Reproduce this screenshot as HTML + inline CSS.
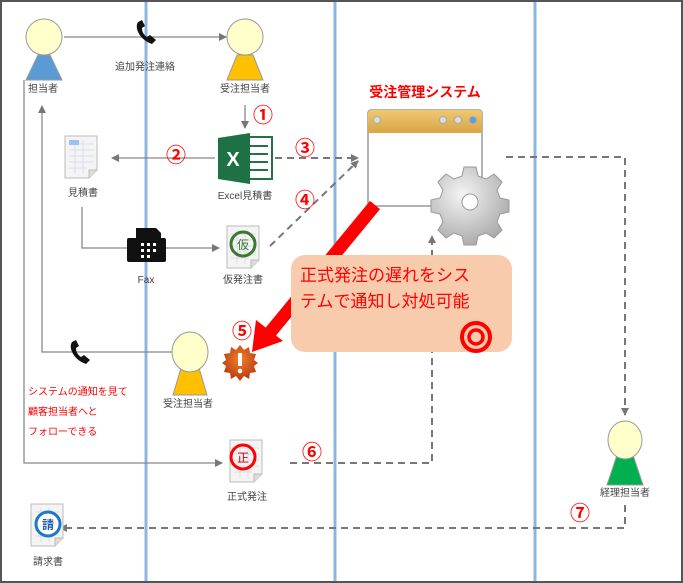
<!DOCTYPE html>
<html><head><meta charset="utf-8"><style>
html,body{margin:0;padding:0;background:#fff}
svg{display:block;font-family:"Liberation Sans","Noto Sans CJK JP",sans-serif}
</style></head><body>
<svg width="683" height="583" viewBox="0 0 683 583" xmlns="http://www.w3.org/2000/svg">
<defs>
<marker id="ag" markerWidth="8" markerHeight="8" refX="7" refY="4" orient="auto" markerUnits="userSpaceOnUse"><path d="M0,0 L8,4 L0,8 z" fill="#777"/></marker>
<linearGradient id="tb" x1="0" y1="0" x2="0" y2="1"><stop offset="0" stop-color="#f0c870"/><stop offset="1" stop-color="#d9a548"/></linearGradient>
<radialGradient id="gear" cx="0.4" cy="0.35" r="0.7"><stop offset="0" stop-color="#f4f4f4"/><stop offset="1" stop-color="#a8a8a8"/></radialGradient>
<radialGradient id="warn" cx="0.5" cy="0.4" r="0.6"><stop offset="0" stop-color="#f08030"/><stop offset="1" stop-color="#b83808"/></radialGradient>
<g id="doc"><path d="M0,0 H32 V34 L24,42 H0 Z" fill="#f4f4f4" stroke="#bbb"/><path d="M32,34 L24,34 L24,42" fill="#ddd" stroke="#bbb"/><g stroke="#dde" stroke-width="1"><line x1="4" y1="8" x2="29" y2="8"/><line x1="4" y1="14" x2="29" y2="14"/><line x1="4" y1="20" x2="29" y2="20"/><line x1="4" y1="26" x2="29" y2="26"/><line x1="4" y1="32" x2="22" y2="32"/><line x1="10" y1="4" x2="10" y2="38"/><line x1="18" y1="4" x2="18" y2="38"/></g></g>
<g id="phone"><path d="M-8,-10 C-12,-4 -6,8 6,12 L10,8 L4,3 L1,5 C-2,3 -4,0 -4,-4 L-1,-6 L-4,-12 Z" fill="#111"/></g>
</defs>
<rect x="1" y="1" width="681" height="581" fill="#fff" stroke="#555" stroke-width="2"/>
<g stroke="#8db4e2" stroke-width="3"><line x1="146" y1="2" x2="146" y2="581"/><line x1="335" y1="2" x2="335" y2="581"/><line x1="535" y1="2" x2="535" y2="581"/></g>

<g stroke="#888" stroke-width="1.3" fill="none" marker-end="url(#ag)">
<line x1="64" y1="37" x2="226" y2="37"/>
<line x1="245" y1="105" x2="245" y2="128"/>
<line x1="215" y1="158" x2="112" y2="158"/>
<polyline points="82,207 82,248 219,248"/>
<polyline points="172,352 42,352 42,106"/>
<polyline points="24,80 24,463 222,463"/>
</g>
<g stroke="#777" stroke-width="2" stroke-dasharray="7,5" fill="none" marker-end="url(#ag)">
<line x1="275" y1="158" x2="358" y2="158"/>
<line x1="270" y1="246" x2="358" y2="161"/>
<polyline points="290,463 432,463 432,236"/>
<polyline points="506,157 625,157 625,415"/>
<polyline points="625,505 625,528 60,528"/>
</g>

<g stroke="#999" stroke-width="1">
<path d="M38,55 L50,55 L62,80 L26,80 Z" fill="#5b9bd5"/><circle cx="44" cy="37" r="18" fill="#ffffcc"/>
<path d="M237,55 L253,55 L263,80 L227,80 Z" fill="#ffc000"/><circle cx="245" cy="37" r="18" fill="#ffffcc"/>
<path d="M181,368 L199,368 L207,395 L173,395 Z" fill="#ffc000"/><ellipse cx="190" cy="352" rx="18" ry="20" fill="#ffffcc"/>
<path d="M617,455 L633,455 L643,485 L607,485 Z" fill="#00b050"/><ellipse cx="625" cy="440" rx="17" ry="19" fill="#ffffcc"/>
</g>
<g font-size="10" fill="#444" text-anchor="middle">
<text x="43" y="92">担当者</text><text x="245" y="92">受注担当者</text>
<text x="145" y="70">追加発注連絡</text><text x="245" y="199">Excel見積書</text>
<text x="83" y="196">見積書</text><text x="146" y="283">Fax</text><text x="243" y="283">仮発注書</text>
<text x="188" y="407">受注担当者</text><text x="247" y="500">正式発注</text>
<text x="625" y="496">経理担当者</text><text x="48" y="565">請求書</text>
</g>
<use href="#phone" transform="translate(146,32)"/>
<use href="#phone" transform="translate(80,352)"/>

<rect x="244" y="137" width="28" height="42" fill="#fff" stroke="#217346" stroke-width="2"/>
<g stroke="#217346" stroke-width="2"><line x1="250" y1="146" x2="268" y2="146"/><line x1="250" y1="154" x2="268" y2="154"/><line x1="250" y1="162" x2="268" y2="162"/><line x1="250" y1="170" x2="268" y2="170"/></g>
<path d="M218,138 L250,133 L250,184 L218,179 Z" fill="#1e7145"/>
<text x="233" y="166" font-size="20" font-weight="bold" fill="#fff" text-anchor="middle">X</text>

<use href="#doc" transform="translate(65,136)"/>
<rect x="69" y="140" width="10" height="5" fill="#9cc3f0"/>
<use href="#doc" transform="translate(227,226)"/>
<circle cx="243" cy="244" r="12" fill="none" stroke="#3a7a30" stroke-width="3"/><text x="243" y="249" font-size="12" fill="#3a7a30" text-anchor="middle">仮</text>
<use href="#doc" transform="translate(230,440)"/>
<circle cx="243" cy="457" r="12" fill="none" stroke="#f00" stroke-width="3"/><text x="243" y="462" font-size="12" fill="#c00" text-anchor="middle">正</text>
<use href="#doc" transform="translate(31,504)"/>
<circle cx="48" cy="524" r="12" fill="#fff" stroke="#1f77c8" stroke-width="3"/><text x="48" y="529" font-size="12" font-weight="bold" fill="#1f5fa8" text-anchor="middle">請</text>

<g fill="#111"><rect x="127" y="238" width="39" height="24" rx="2"/><path d="M136,228 H156 L161,233 V240 H136 Z"/></g>
<g fill="#fff"><rect x="141" y="243" width="3" height="3"/><rect x="147" y="243" width="3" height="3"/><rect x="153" y="243" width="3" height="3"/><rect x="141" y="249" width="3" height="3"/><rect x="147" y="249" width="3" height="3"/><rect x="153" y="249" width="3" height="3"/><rect x="141" y="255" width="3" height="3"/><rect x="147" y="255" width="3" height="3"/></g>

<g fill="#f00" font-size="20" font-weight="bold" text-anchor="middle">
<text x="263" y="122">①</text><text x="176" y="162">②</text><text x="305" y="155">③</text><text x="305" y="207">④</text>
<text x="242" y="338">⑤</text><text x="312" y="459">⑥</text><text x="580" y="520">⑦</text>
</g>

<text x="425" y="97" font-size="14" font-weight="bold" fill="#f00" text-anchor="middle">受注管理システム</text>
<rect x="368" y="110" width="114" height="96" rx="3" fill="#fff" stroke="#999" stroke-width="1.5"/>
<path d="M368,113 a3,3 0 0 1 3,-3 h108 a3,3 0 0 1 3,3 v20 h-114 z" fill="url(#tb)"/>
<g fill="#ddd" stroke="#aaa"><circle cx="377" cy="120" r="3.5"/><circle cx="443" cy="120" r="3.5"/><circle cx="458" cy="120" r="3.5"/></g><circle cx="473" cy="120" r="3.5" fill="#5aa0e8"/>
<line x1="375" y1="205" x2="268" y2="335" stroke="#f00" stroke-width="13"/>
<path d="M252,352 L256,320 L283,341 Z" fill="#f00"/>
<g transform="translate(470,202)">
<g fill="url(#gear)" stroke="#999" stroke-width="1">
<path d="M-6,-35 h12 l2,9 l8,3 l8,-5 l8,8 l-5,8 l3,8 l9,2 v12 l-9,2 l-3,8 l5,8 l-8,8 l-8,-5 l-8,3 l-2,9 h-12 l-2,-9 l-8,-3 l-8,5 l-8,-8 l5,-8 l-3,-8 l-9,-2 v-12 l9,-2 l3,-8 l-5,-8 l8,-8 l8,5 l8,-3 z"/>
</g>
<circle r="8" fill="#fff" stroke="#999"/>
</g>
<rect x="291" y="255" width="221" height="97" rx="14" fill="#f8cbad"/>
<text x="300" y="281" font-size="17" fill="#f00">正式発注の遅れをシス</text>
<text x="300" y="307" font-size="17" fill="#f00">テムで通知し対処可能</text>
<circle cx="476" cy="337" r="14" fill="none" stroke="#f00" stroke-width="4"/><circle cx="476" cy="337" r="7" fill="none" stroke="#f00" stroke-width="3.5"/>
<g transform="translate(240,363)">
<polygon fill="url(#warn)" points="0,-18 4,-13 9,-16 10,-10 16,-9 14,-3 18,0 14,3 16,9 10,10 9,16 4,13 0,18 -4,13 -9,16 -10,10 -16,9 -14,3 -18,0 -14,-3 -16,-9 -10,-10 -9,-16 -4,-13"/>
<rect x="-2" y="-10" width="4" height="13" fill="#fff"/><circle cx="0" cy="8" r="2.3" fill="#fff"/>
</g>
<g font-size="10" fill="#f00"><text x="28" y="395">システムの通知を見て</text><text x="28" y="415">顧客担当者へと</text><text x="28" y="435">フォローできる</text></g>
</svg>
</body></html>
